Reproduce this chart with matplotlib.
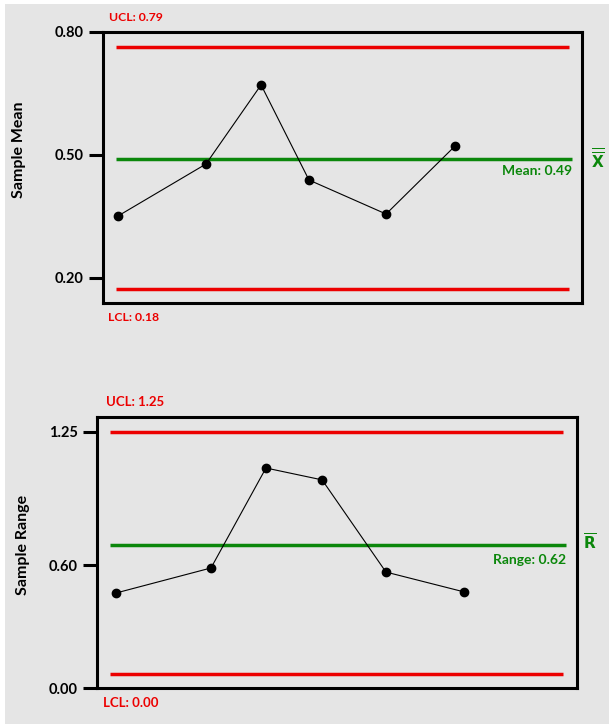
import matplotlib.pyplot as plt
from matplotlib.patches import Rectangle

# Sample mean chart (x-bar)
mean_x = [3.1, 21.5, 33.0, 43.0, 59.1, 73.5]
mean_vals = [0.351, 0.478, 0.671, 0.439, 0.356, 0.522]
mean_ucl, mean_center, mean_lcl = 0.763, 0.490, 0.173
mean_ticks = [0.20, 0.50, 0.80]
mean_ticklabels = ["0.20", "0.50", "0.80"]

# Sample range chart (R)
range_x = [4.0, 23.75, 35.2, 46.9, 60.2, 76.5]
range_vals = [0.464, 0.586, 1.074, 1.016, 0.566, 0.469]
range_ucl, range_center, range_lcl = 1.25, 0.698, 0.068
range_ticks = [0.00, 0.60, 1.25]
range_ticklabels = ["0.00", "0.60", "1.25"]

RED = "#ec0000"
GREEN = "#0b870b"
BG = "#e5e5e5"
FONT = ["Lato", "DejaVu Sans"]

plt.rcParams["font.family"] = FONT
plt.rcParams["font.weight"] = "bold"

fig = plt.figure(figsize=(6.09, 7.24), dpi=100)
fig.patch.set_facecolor(BG)
# white margin strips at the top and left edges
fig.add_artist(Rectangle((0, 1 - 4 / 724), 1, 4 / 724, transform=fig.transFigure,
                         facecolor="white", edgecolor="none"))
fig.add_artist(Rectangle((0, 0), 5 / 609, 1, transform=fig.transFigure,
                         facecolor="white", edgecolor="none"))

ax1 = fig.add_axes([103 / 609, 1 - 303 / 724, 479 / 609, 271 / 724])
ax2 = fig.add_axes([97 / 609, 1 - 688 / 724, 480 / 609, 271 / 724])


def style(ax, ticks, labels, ylim):
    ax.set_facecolor(BG)
    ax.set_xlim(0, 100)
    ax.set_ylim(*ylim)
    ax.set_xticks([])
    ax.set_yticks(ticks)
    ax.set_yticklabels(labels, fontsize=10.5, fontweight="bold")
    ax.tick_params(axis="y", direction="out", length=10, width=2.2, pad=4)
    for s in ax.spines.values():
        s.set_linewidth(2.2)
        s.set_color("black")


# top chart
style(ax1, mean_ticks, mean_ticklabels, (0.139, 0.80))
ax1.hlines([mean_ucl, mean_lcl], 2.7, 97.3, colors=RED, linewidth=2.5)
ax1.hlines(mean_center, 2.7, 97.9, colors=GREEN, linewidth=2.5)
ax1.plot(mean_x, mean_vals, color="black", linewidth=0.8, marker="o", markersize=6)
ax1.text(0.012, 1.055, "UCL: 0.79", transform=ax1.transAxes, color=RED,
         fontsize=8.8, fontweight="bold", va="center", ha="left")
ax1.text(0.01, -0.055, "LCL: 0.18", transform=ax1.transAxes, color=RED,
         fontsize=8.8, fontweight="bold", va="center", ha="left")
ax1.text(0.979, 0.487, "Mean: 0.49", transform=ax1.transAxes, color=GREEN,
         fontsize=10, fontweight="bold", va="center", ha="right")
ax1.text(1.033, 0.53, r"$\overline{\overline{\mathbf{X}}}$", transform=ax1.transAxes,
         color=GREEN, fontsize=11, va="center", ha="center")
ax1.set_ylabel("Sample Mean", fontsize=11.5, fontweight="bold")
ax1.yaxis.set_label_coords(-0.16, 0.565)

# bottom chart
style(ax2, range_ticks, range_ticklabels, (0.0, 1.323))
ax2.hlines([range_ucl, range_lcl], 2.7, 97.1, colors=RED, linewidth=2.5)
ax2.hlines(range_center, 2.7, 97.7, colors=GREEN, linewidth=2.5)
ax2.plot(range_x, range_vals, color="black", linewidth=0.8, marker="o", markersize=6)
ax2.text(0.018, 1.055, "UCL: 1.25", transform=ax2.transAxes, color=RED,
         fontsize=9.5, fontweight="bold", va="center", ha="left")
ax2.text(0.012, -0.055, "LCL: 0.00", transform=ax2.transAxes, color=RED,
         fontsize=9.5, fontweight="bold", va="center", ha="left")
ax2.text(0.977, 0.473, "Range: 0.62", transform=ax2.transAxes, color=GREEN,
         fontsize=10, fontweight="bold", va="center", ha="right")
ax2.text(1.027, 0.535, r"$\overline{\mathbf{R}}$", transform=ax2.transAxes,
         color=GREEN, fontsize=11, va="center", ha="center")
ax2.set_ylabel("Sample Range", fontsize=11.5, fontweight="bold")
ax2.yaxis.set_label_coords(-0.14, 0.528)

fig.savefig("out.png", dpi=100, facecolor=fig.get_facecolor())
